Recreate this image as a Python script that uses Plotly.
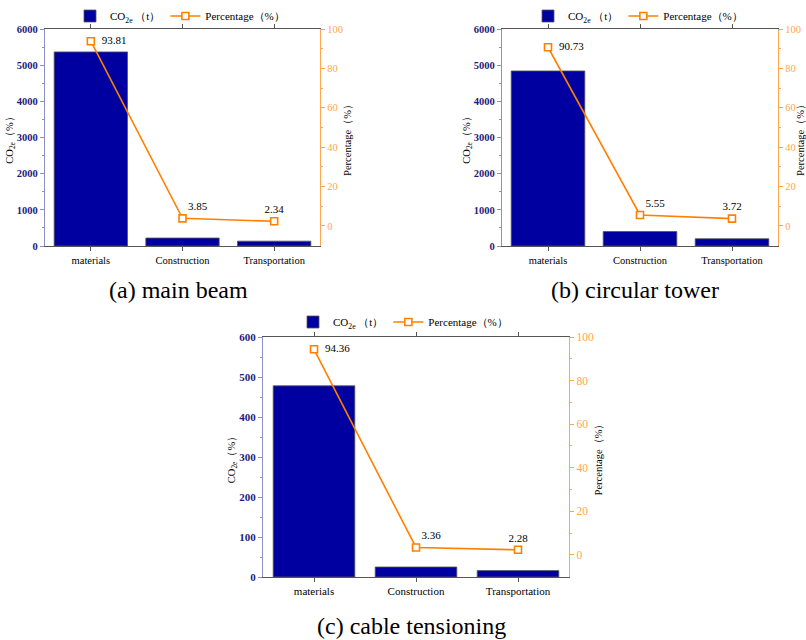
import plotly.graph_objects as go

categories = ["materials", "Construction", "Transportation"]

beam_co2 = [5366, 220, 134]
beam_pct = [93.81, 3.85, 2.34]

tower_co2 = [4840, 400, 200]
tower_pct = [90.73, 5.55, 3.72]

cable_co2 = [478, 25, 16]
cable_pct = [94.36, 3.36, 2.28]

panel_titles = ["(a) main beam", "(b) circular tower", "(c) cable tensioning"]
left_ranges = [[0, 6000], [0, 6000], [0, 600]]
left_dticks = [1000, 1000, 100]

W, H = 806, 640
SERIF = "Times New Roman, Liberation Serif, Times, serif"
BAR_COLOR = "#0000a0"
LINE_COLOR = "#ff8000"
NAVY = "#1c1c7c"
LAV = "#8f8fc8"
ORANGE_AX = "#ffa64d"
GREY = "#555555"

# plot areas in window pixels: (x0, x1, ytop, ybottom)
areas = [(45, 320, 29, 246), (502, 778, 29, 246), (263, 569, 337, 577)]
legend_pos = [(70, 16), (528, 16), (293, 322)]
title_pos = [(178, 290), (635, 290), (411, 626)]
label_positions = ["middle right", "top right", "top center"]

datasets = [(beam_co2, beam_pct), (tower_co2, tower_pct), (cable_co2, cable_pct)]


def px(x):
    return x / W


def py(y):
    return 1 - y / H


fig = go.Figure()
layout = dict(
    template="none",
    width=W, height=H, margin=dict(l=0, r=0, t=0, b=0, pad=0, autoexpand=False),
    paper_bgcolor="white", plot_bgcolor="rgba(0,0,0,0)",
    showlegend=True, font=dict(family=SERIF, size=10, color="black"),
)
annotations = []

for i, ((co2, pct), (x0, x1, yt, yb)) in enumerate(zip(datasets, areas)):
    n = i + 1
    xa = "x" if n == 1 else f"x{n}"
    yl_id = 2 * i + 1
    yr_id = 2 * i + 2
    yl = "y" if yl_id == 1 else f"y{yl_id}"
    yr = f"y{yr_id}"
    leg = "legend" if n == 1 else f"legend{n}"

    fig.add_trace(go.Bar(
        x=categories, y=co2, xaxis=xa, yaxis=yl, width=0.8,
        marker=dict(color=BAR_COLOR, line=dict(color=GREY, width=0.8)),
        name="CO<sub>2e</sub> （t）", legend=leg,
    ))
    fig.add_trace(go.Scatter(
        x=categories, y=pct, xaxis=xa, yaxis=yr,
        mode="lines+markers+text",
        line=dict(color=LINE_COLOR, width=1.6),
        marker=dict(symbol="square", size=7, color="white",
                    line=dict(color=LINE_COLOR, width=1.6)),
        text=[("  " if k == 0 else "") + f"{v:.2f}" for k, v in enumerate(pct)],
        textposition=label_positions,
        textfont=dict(family=SERIF, size=11, color="black"),
        cliponaxis=False,
        name="Percentage（%）", legend=leg,
    ))

    xkey = "xaxis" if n == 1 else f"xaxis{n}"
    ylkey = "yaxis" if yl_id == 1 else f"yaxis{yl_id}"
    yrkey = f"yaxis{yr_id}"

    layout[xkey] = dict(
        domain=[px(x0), px(x1)], anchor=yl, type="category", automargin=False,
        showline=True, linecolor=GREY, linewidth=1, mirror="ticks",
        ticks="outside", ticklen=4, tickcolor=GREY,
        tickfont=dict(family=SERIF, size=10.5 if i < 2 else 11, color="black"),
        showgrid=False, zeroline=False, fixedrange=True,
    )
    layout[ylkey] = dict(
        domain=[py(yb), py(yt)], anchor=xa, automargin=False,
        range=left_ranges[i], dtick=left_dticks[i],
        showline=True, linecolor=LAV, linewidth=1.2,
        ticks="outside", ticklen=4, tickcolor=LAV,
        minor=dict(dtick=left_dticks[i] / 2, ticks="outside", ticklen=2, tickcolor=LAV),
        tickfont=dict(family=SERIF, size=10.5 if i < 2 else 11, color=NAVY, weight="bold"),
        showgrid=False, zeroline=False,
        title=dict(text="CO<sub>2e</sub>（%）", font=dict(family=SERIF, size=10.5, color="black"),
                   standoff=1),
    )
    layout[yrkey] = dict(
        overlaying=yl, side="right", anchor=xa, automargin=False,
        range=[-10.2, 100], tickvals=[0, 20, 40, 60, 80, 100],
        showline=True, linecolor=ORANGE_AX, linewidth=1.2,
        ticks="outside", ticklen=4, tickcolor=ORANGE_AX,
        minor=dict(tickvals=[10, 30, 50, 70, 90], ticks="outside", ticklen=2, tickcolor=ORANGE_AX),
        tickfont=dict(family=SERIF, size=10.5 if i < 2 else 11.5, color=ORANGE_AX),
        showgrid=False, zeroline=False,
        title=dict(text="Percentage（%）", font=dict(family=SERIF, size=10.5, color="black"),
                   standoff=1),
    )

    lx, ly = legend_pos[i]
    layout[leg] = dict(
        x=px(lx), y=py(ly), xanchor="left", yanchor="middle",
        orientation="h", bgcolor="rgba(0,0,0,0)",
        font=dict(family=SERIF, size=11, color="black"),
        itemwidth=30, tracegroupgap=0,
    )

    tx, ty = title_pos[i]
    annotations.append(dict(
        x=px(tx), y=py(ty), xref="paper", yref="paper",
        text=panel_titles[i], showarrow=False,
        font=dict(family=SERIF, size=24, color="black"),
        xanchor="center", yanchor="middle",
    ))

layout["annotations"] = annotations
fig.update_layout(**layout)
fig.write_html("out.html", config={"displayModeBar": False},
               post_script="document.body.style.margin='0';")
